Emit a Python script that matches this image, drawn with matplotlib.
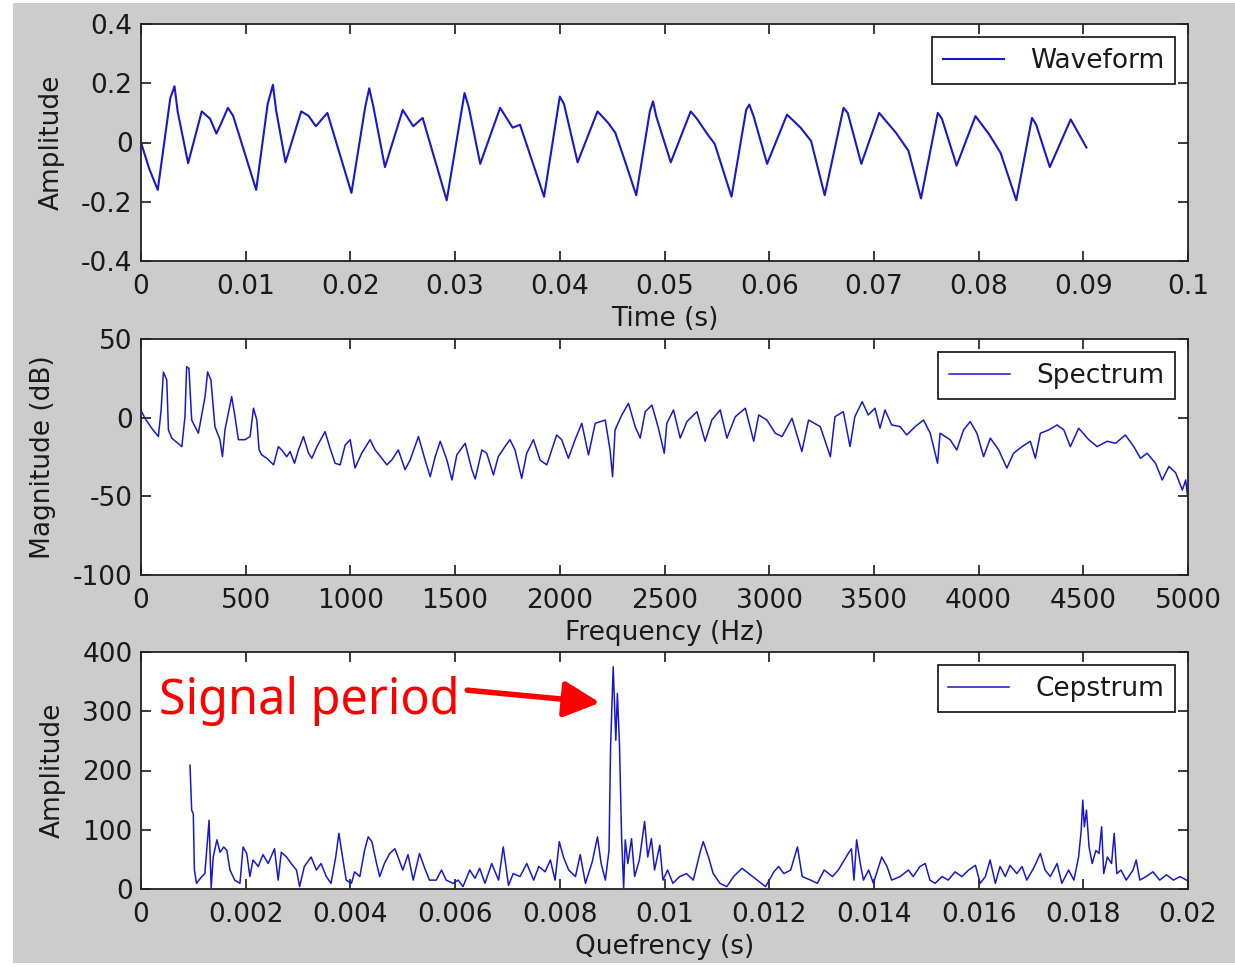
import matplotlib.pyplot as plt
from matplotlib.patches import Rectangle

# waveform (time in s, amplitude)
wave_t = [0, 0.0008, 0.0016, 0.0028, 0.0032, 0.0035, 0.0045, 0.0058, 0.0066, 0.0072,
          0.0076, 0.0083, 0.0088, 0.0110, 0.0121, 0.0126, 0.0129, 0.0138, 0.0153, 0.0160,
          0.0167, 0.0178, 0.0201, 0.0214, 0.0218, 0.0222, 0.0233, 0.0250, 0.0260, 0.0269,
          0.0292, 0.0309, 0.0313, 0.0324, 0.0343, 0.0355, 0.0362, 0.0385, 0.0400, 0.0404,
          0.0417, 0.0436, 0.0446, 0.0453, 0.0462, 0.0473, 0.0486, 0.0489, 0.0492, 0.0506,
          0.0525, 0.0531, 0.0541, 0.0548, 0.0564, 0.0578, 0.0581, 0.0585, 0.0598, 0.0617,
          0.0630, 0.0640, 0.0653, 0.0671, 0.0675, 0.0688, 0.0705, 0.0721, 0.0733, 0.0745,
          0.0761, 0.0765, 0.0779, 0.0797, 0.0810, 0.0821, 0.0836, 0.0851, 0.0855, 0.0868,
          0.0888, 0.0903]
wave_amp = [0.0, -0.09, -0.16, 0.15, 0.19, 0.105, -0.07, 0.105, 0.08, 0.03,
            0.06, 0.117, 0.09, -0.16, 0.13, 0.195, 0.11, -0.067, 0.105, 0.09,
            0.055, 0.1, -0.17, 0.117, 0.183, 0.12, -0.083, 0.11, 0.055, 0.083,
            -0.195, 0.167, 0.12, -0.072, 0.117, 0.05, 0.06, -0.183, 0.155, 0.13,
            -0.067, 0.105, 0.067, 0.033, -0.06, -0.178, 0.105, 0.139, 0.09, -0.067,
            0.105, 0.08, 0.028, -0.005, -0.183, 0.11, 0.128, 0.09, -0.072, 0.094,
            0.05, 0.005, -0.178, 0.117, 0.1, -0.072, 0.1, 0.033, -0.028, -0.189,
            0.1, 0.08, -0.078, 0.089, 0.028, -0.035, -0.195, 0.083, 0.06, -0.083,
            0.078, -0.017]

# spectrum (Hz, dB)
spec_freq = [3, 19, 51, 83, 96, 107, 123, 131, 147, 195,
             210, 218, 229, 242, 274, 306, 318, 334, 353, 377,
             389, 401, 433, 449, 465, 497, 521, 537, 553, 564,
             577, 601, 633, 656, 672, 696, 712, 733, 752, 776,
             800, 816, 840, 879, 903, 927, 951, 975, 999, 1022,
             1054, 1094, 1118, 1150, 1174, 1197, 1229, 1261, 1285, 1325,
             1357, 1381, 1405, 1429, 1461, 1485, 1508, 1548, 1580, 1596,
             1628, 1651, 1683, 1706, 1738, 1762, 1786, 1818, 1842, 1874,
             1906, 1938, 1985, 2009, 2041, 2073, 2105, 2137, 2169, 2217,
             2240, 2252, 2264, 2296, 2328, 2360, 2384, 2408, 2440, 2471,
             2499, 2511, 2543, 2575, 2607, 2655, 2694, 2726, 2766, 2798,
             2838, 2886, 2926, 2950, 2989, 3029, 3061, 3109, 3156, 3188,
             3244, 3292, 3314, 3354, 3386, 3409, 3444, 3473, 3505, 3529,
             3553, 3585, 3625, 3657, 3697, 3737, 3769, 3804, 3816, 3864,
             3896, 3928, 3960, 3992, 4024, 4056, 4096, 4135, 4167, 4207,
             4247, 4271, 4295, 4335, 4375, 4407, 4438, 4478, 4526, 4566,
             4614, 4654, 4701, 4741, 4773, 4805, 4845, 4877, 4909, 4941,
             4973, 4989, 4997]
spec_db = [3.8, -0.4, -6.7, -12, 4.9, 29, 24, -7.8, -13, -18.4,
           0.6, 32.4, 31.3, -1.5, -9.9, 13.4, 29, 24, -5.7, -14,
           -24.8, -7.8, 13.4, 0.6, -14, -14, -12, 6, -1.5, -20.5,
           -23.7, -25.8, -30, -18.4, -20.5, -24.8, -21.5, -29, -20.5, -12,
           -22.6, -25.8, -18.4, -8.9, -19.5, -29, -30, -17.4, -14, -32,
           -22.6, -14, -20.5, -25.8, -30, -27, -20.5, -33, -27, -12,
           -27, -37.5, -24.8, -15, -27, -39.6, -23.7, -16.3, -33, -39,
           -20.5, -22.6, -36.4, -24.8, -18.4, -14, -20.5, -38.5, -22.6, -14,
           -27, -30, -11, -14, -25.8, -14, -3.6, -23.7, -3.6, -1.5,
           -20.5, -37.5, -7.8, 1.7, 9.1, -5.7, -13, 3.8, 8, -6.7,
           -22.6, -3.6, 4.9, -13, -2.5, 3.8, -15, -1.5, 4.9, -13,
           0.6, 6, -15, 1.7, -1.5, -9.9, -12, -0.4, -21.5, -1.5,
           -5.7, -24.8, 0.6, 3.8, -18.4, 0.6, 10.2, 1.7, 6, -6.7,
           4.9, -4.6, -5.7, -11, -5.7, -1.5, -9.9, -29, -9.9, -14,
           -20.5, -7.8, -2.5, -9.9, -24.8, -13, -20.5, -32, -22.6, -18.4,
           -15, -25.8, -9.9, -7.8, -4.6, -7.8, -18.4, -6.7, -14, -18.4,
           -15, -16.3, -11, -18.4, -25.8, -22.6, -29, -39.6, -31, -35,
           -46, -39.6, -48.8]

# cepstrum (quefrency in s, amplitude)
ceps_q = [0.000936, 0.000968, 0.000999, 0.00102, 0.00106, 0.00116, 0.00122, 0.0013, 0.00134, 0.00138,
          0.00145, 0.00151, 0.00158, 0.00164, 0.0017, 0.00179, 0.00189, 0.00195, 0.00202, 0.00208,
          0.00214, 0.00224, 0.00233, 0.00243, 0.00255, 0.00262, 0.00268, 0.00278, 0.00287, 0.00297,
          0.00303, 0.00312, 0.00325, 0.00335, 0.00344, 0.00354, 0.00363, 0.00372, 0.00378, 0.00383,
          0.00392, 0.00402, 0.00408, 0.00418, 0.00427, 0.00434, 0.00441, 0.0045, 0.00456, 0.00465,
          0.00475, 0.00485, 0.00491, 0.005, 0.0051, 0.0052, 0.00532, 0.00542, 0.00551, 0.00564,
          0.00574, 0.00583, 0.00596, 0.00606, 0.00615, 0.00628, 0.00638, 0.00647, 0.00657, 0.0067,
          0.00683, 0.00692, 0.00702, 0.00711, 0.00724, 0.00737, 0.0075, 0.0076, 0.00772, 0.00782,
          0.00791, 0.00799, 0.00807, 0.00817, 0.0083, 0.00839, 0.00849, 0.00862, 0.00872, 0.00879,
          0.00887, 0.00894, 0.00897, 0.00902, 0.00907, 0.0091, 0.00914, 0.00918, 0.00922, 0.00925,
          0.0093, 0.00937, 0.00943, 0.00952, 0.00962, 0.00968, 0.00975, 0.00981, 0.00991, 0.00997,
          0.01006, 0.01016, 0.01029, 0.01042, 0.01055, 0.01068, 0.01074, 0.01084, 0.01093, 0.01106,
          0.01119, 0.01132, 0.01148, 0.01161, 0.01177, 0.01193, 0.01209, 0.01218, 0.01228, 0.01241,
          0.01254, 0.01263, 0.01279, 0.01292, 0.01305, 0.01321, 0.01332, 0.01351, 0.01357, 0.01362,
          0.01367, 0.01374, 0.0138, 0.0139, 0.01399, 0.01415, 0.01425, 0.01434, 0.0145, 0.01466,
          0.01475, 0.01488, 0.01498, 0.01507, 0.01517, 0.0153, 0.01542, 0.01555, 0.01568, 0.01581,
          0.01594, 0.01603, 0.01613, 0.01622, 0.01632, 0.01641, 0.01651, 0.0166, 0.01673, 0.01683,
          0.01692, 0.01705, 0.01718, 0.01727, 0.01737, 0.0175, 0.01759, 0.01772, 0.01782, 0.01791,
          0.01796, 0.01799, 0.01802, 0.01806, 0.01811, 0.01817, 0.01824, 0.0183, 0.01835, 0.01839,
          0.01846, 0.01854, 0.01859, 0.01864, 0.01872, 0.01882, 0.01895, 0.01901, 0.01908, 0.0192,
          0.01933, 0.01946, 0.01959, 0.01972, 0.01985, 0.01997]
ceps_amp = [209, 133, 127, 32, 9.6, 21, 26, 116, 2, 54,
            83, 62, 71, 65, 32, 15, 9.6, 71, 60, 21,
            49, 38, 58, 43, 68, 15, 62, 54, 43, 32,
            4, 38, 54, 32, 43, 21, 9.6, 54, 94, 65,
            15, 9.6, 29, 21, 65, 88, 80, 43, 21, 43,
            60, 68, 54, 32, 58, 15, 60, 35, 15, 15,
            32, 15, 9.6, 15, 4, 32, 18, 35, 9.6, 43,
            15, 71, 6, 26, 21, 43, 15, 38, 29, 49,
            15, 80, 54, 32, 21, 58, 9.6, 46, 88, 43,
            15, 65, 240, 375, 251, 330, 245, 88, 2, 83,
            43, 85, 21, 49, 114, 54, 85, 32, 74, 15,
            32, 9.6, 21, 26, 15, 62, 80, 54, 26, 9.6,
            4, 21, 35, 26, 15, 4, 29, 38, 26, 32,
            71, 21, 15, 9.6, 32, 21, 32, 60, 68, 15,
            83, 43, 15, 32, 9.6, 54, 38, 15, 21, 32,
            21, 38, 43, 15, 9.6, 21, 15, 29, 21, 32,
            40, 9.6, 21, 49, 9.6, 38, 21, 40, 26, 38,
            15, 35, 60, 32, 21, 43, 9.6, 32, 15, 54,
            99, 150, 105, 133, 71, 43, 65, 60, 105, 26,
            54, 43, 94, 26, 32, 15, 32, 49, 15, 21,
            29, 15, 24, 15, 21, 15]

wave_xticks = [0, 0.01, 0.02, 0.03, 0.04, 0.05, 0.06, 0.07, 0.08, 0.09, 0.1]
wave_xlabels = ['0', '0.01', '0.02', '0.03', '0.04', '0.05', '0.06', '0.07', '0.08', '0.09', '0.1']
wave_yticks = [-0.4, -0.2, 0, 0.2, 0.4]
wave_ylabels = ['-0.4', '-0.2', '0', '0.2', '0.4']
spec_xticks = [0, 500, 1000, 1500, 2000, 2500, 3000, 3500, 4000, 4500, 5000]
spec_yticks = [-100, -50, 0, 50]
ceps_xticks = [0, 0.002, 0.004, 0.006, 0.008, 0.01, 0.012, 0.014, 0.016, 0.018, 0.02]
ceps_xlabels = ['0', '0.002', '0.004', '0.006', '0.008', '0.01', '0.012', '0.014', '0.016', '0.018', '0.02']
ceps_yticks = [0, 100, 200, 300, 400]

plt.rcParams['font.family'] = ['DejaVu Sans']
LINE = '#1818cc'
TXT = '#1a1a1a'
FS = 19

fig = plt.figure(figsize=(12.35, 9.67), dpi=100, facecolor='white')
fig.patches.append(Rectangle((13 / 1235, 4 / 967), 1 - 13 / 1235, 1 - 7 / 967,
                             transform=fig.transFigure, facecolor='#cccccc',
                             edgecolor='none', zorder=-10))

left, width = 141 / 1235, 1047 / 1235
ax1 = fig.add_axes([left, (967 - 261) / 967, width, 237 / 967])
ax2 = fig.add_axes([left, (967 - 575) / 967, width, 236 / 967])
ax3 = fig.add_axes([left, (967 - 889) / 967, width, 237 / 967])


def style(ax, xticks, xlabels, yticks, ylabels, xlabel, ylabel):
    ax.set_xticks(xticks)
    ax.set_xticklabels(xlabels)
    ax.set_yticks(yticks)
    ax.set_yticklabels(ylabels)
    ax.set_xlim(xticks[0], xticks[-1])
    ax.set_ylim(yticks[0], yticks[-1])
    ax.tick_params(direction='in', length=7, width=1.2, top=True, right=True,
                   labelsize=FS, colors=TXT)
    ax.tick_params(axis='x', pad=9)
    ax.tick_params(axis='y', pad=6)
    for sp in ax.spines.values():
        sp.set_linewidth(1.3)
        sp.set_color('#222222')
    ax.set_xlabel(xlabel, fontsize=FS, color=TXT, labelpad=5)
    ax.set_ylabel(ylabel, fontsize=FS, color=TXT, labelpad=12)
    leg = ax.legend(loc='upper right', fontsize=FS, fancybox=False, framealpha=1,
                    edgecolor='#222222', handlelength=2.3, borderaxespad=0.5,
                    borderpad=0.4, handletextpad=1.0)
    leg.get_frame().set_linewidth(1.3)
    for t in leg.get_texts():
        t.set_color(TXT)


ax1.plot(wave_t, wave_amp, color=LINE, lw=1.5, label='Waveform')
style(ax1, wave_xticks, wave_xlabels, wave_yticks, wave_ylabels, 'Time (s)', 'Amplitude')

ax2.plot(spec_freq, spec_db, color=LINE, lw=1.1, label='Spectrum')
style(ax2, spec_xticks, [str(v) for v in spec_xticks], spec_yticks,
      [str(v) for v in spec_yticks], 'Frequency (Hz)', 'Magnitude (dB)')

ax3.plot(ceps_q, ceps_amp, color=LINE, lw=1.1, label='Cepstrum')
style(ax3, ceps_xticks, ceps_xlabels, ceps_yticks, [str(v) for v in ceps_yticks],
      'Quefrency (s)', 'Amplitude')

ax3.text(0.00035, 318, 'Signal period', color='red', fontsize=35,
         family='Noto Sans', ha='left', va='center')
ax3.annotate('', xy=(0.00882, 314), xytext=(0.00618, 336),
             arrowprops=dict(arrowstyle='-|>', color='red', lw=4, mutation_scale=55))

fig.savefig('out.png', dpi=100, facecolor=fig.get_facecolor())
